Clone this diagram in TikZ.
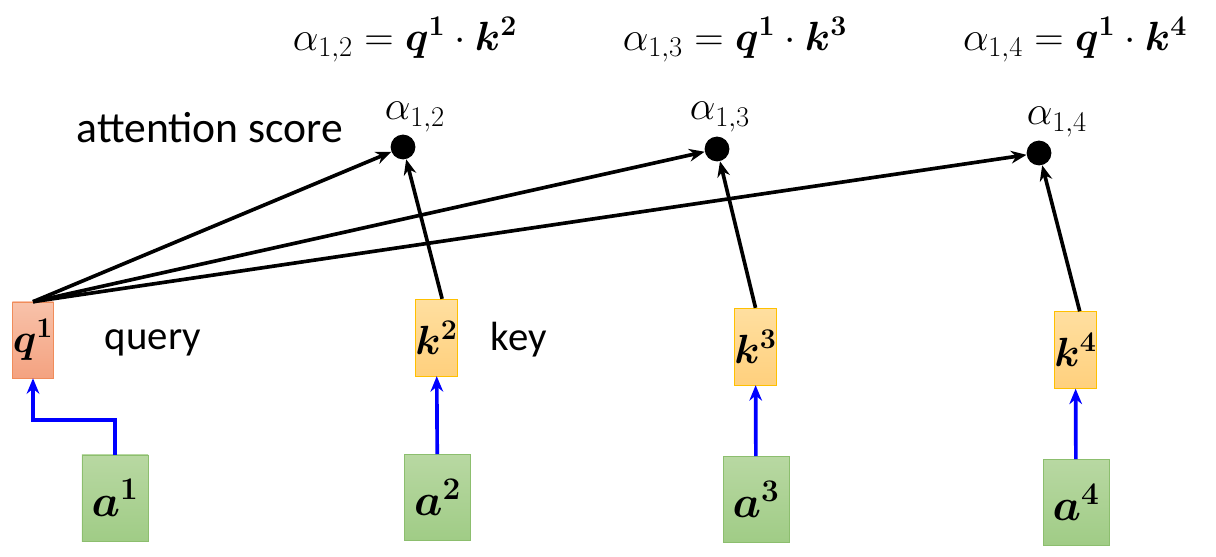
\documentclass[tikz,border=0pt]{standalone}
\usepackage{fix-cm}
\usepackage{bm}
\usepackage{amsmath,amssymb}
\usepackage{fontspec}
\setmainfont{Carlito}
\usetikzlibrary{arrows.meta}
\definecolor{qtop}{RGB}{248,194,170}
\definecolor{qbot}{RGB}{244,162,128}
\definecolor{qline}{RGB}{240,140,90}
\definecolor{ktop}{RGB}{255,223,160}
\definecolor{kbot}{RGB}{255,208,125}
\definecolor{kline}{RGB}{255,192,0}
\definecolor{atop}{RGB}{184,216,162}
\definecolor{abot}{RGB}{160,204,134}
\definecolor{aline}{RGB}{140,190,110}

\tikzset{
  qbox/.style={draw=qline,top color=qtop,bottom color=qbot,minimum width=1.03cm,minimum height=1.9cm,inner sep=0pt,font=\fontsize{29}{32}\selectfont},
  kbox/.style={draw=kline,top color=ktop,bottom color=kbot,minimum width=1.03cm,minimum height=1.92cm,inner sep=0pt,font=\fontsize{29}{32}\selectfont},
  abox/.style={draw=aline,top color=atop,bottom color=abot,minimum width=1.65cm,minimum height=2.15cm,inner sep=0pt,font=\fontsize{32}{36}\selectfont},
  score/.style={circle,fill=black,minimum size=0.62cm,inner sep=0pt},
  big/.style={font=\fontsize{29}{34}\selectfont},
  dot/.style={line width=2.6pt,-{Stealth[length=11pt,width=9pt]}},
  proj/.style={blue,line width=2.6pt,-{Stealth[length=11pt,width=9pt]}}
}

\begin{document}
\begin{tikzpicture}[x=0.025cm,y=-0.025cm]
        \useasboundingbox (0,0) rectangle (1216,557);

        \coordinate (v1) at (33,340);
        \coordinate (v2) at (436.5,337.5);
        \coordinate (v3) at (755.5,346.5);
        \coordinate (v4) at (1075.5,350);
        \coordinate (w1) at (115,498);
        \coordinate (w2) at (437.5,497.5);
        \coordinate (w3) at (756,499.5);
        \coordinate (w4) at (1076,502.5);

        % inputs
        \node[abox] (a1) at (w1) {$\bm{a^1}$};
        \node[abox] (a2) at (w2) {$\bm{a^2}$};
        \node[abox] (a3) at (w3) {$\bm{a^3}$};
        \node[abox] (a4) at (w4) {$\bm{a^4}$};

        % query and keys
        \node[qbox] (q1) at (v1) {$\bm{q^1}$};
        \node[kbox] (k2) at (v2) {$\bm{k^2}$};
        \node[kbox] (k3) at (v3) {$\bm{k^3}$};
        \node[kbox] (k4) at (v4) {$\bm{k^4}$};
        \node[big,anchor=west] (query) at (100,343) {query};
        \node[big,anchor=west] (key) at (486,340) {key};

        % scores
        \node[score] (s12) at (403,147) {};
        \node[score] (s13) at (717,149) {};
        \node[score] (s14) at (1039,153) {};
        \node[big] (l12) at (415,117) {$\alpha_{1,2}$};
        \node[big] (l13) at (720,117) {$\alpha_{1,3}$};
        \node[big] (l14) at (1057,122) {$\alpha_{1,4}$};
        \node[big,anchor=east,font=\fontsize{31}{36}\selectfont] (att) at (348,128) {attention score};

        \node[big] (f12) at (405,40) {$\alpha_{1,2}=\bm{q^1}\cdot\bm{k^2}$};
        \node[big] (f13) at (735,40) {$\alpha_{1,3}=\bm{q^1}\cdot\bm{k^3}$};
        \node[big] (f14) at (1075,40) {$\alpha_{1,4}=\bm{q^1}\cdot\bm{k^4}$};

        \draw[proj] (a1.north) -- ++(0,-35) -| (q1.south);
        \draw[proj] (a2) -- (k2);
        \draw[proj] (a3) -- (k3);
        \draw[proj] (a4) -- (k4);

        \draw[dot] (q1.north) -- (s12);
        \draw[dot] (q1.north) -- (s13);
        \draw[dot] (q1.north) -- (s14);
        \draw[dot] ([xshift=4]k2.north) -- (s12);
        \draw[dot] (k3.north) -- (s13);
        \draw[dot] ([xshift=3]k4.north) -- (s14);
    \end{tikzpicture}
\end{document}
